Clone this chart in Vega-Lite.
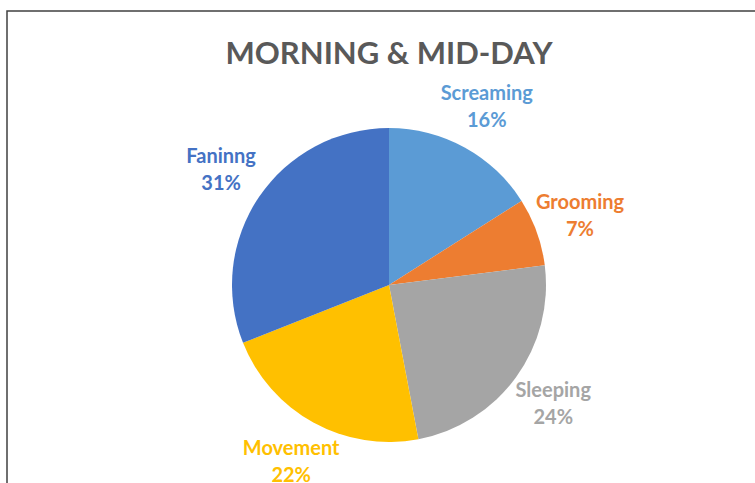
{
  "$schema": "https://vega.github.io/schema/vega-lite/v6.json",
  "width": 764,
  "height": 548,
  "autosize": "none",
  "padding": {"left": 7, "top": 11, "right": 0, "bottom": 0},
  "background": "white",
  "config": {"view": {"stroke": null}},
  "title": {
    "text": "MORNING & MID-DAY",
    "font": "Lato",
    "fontSize": 31,
    "fontWeight": "bold",
    "color": "#595959",
    "anchor": "middle",
    "baseline": "top",
    "offset": -61
  },
  "data": {
    "values": [
      {"activity": "Screaming", "value": 16, "label": "16%", "order": 1},
      {"activity": "Grooming", "value": 7, "label": "7%", "order": 2},
      {"activity": "Sleeping", "value": 24, "label": "24%", "order": 3},
      {"activity": "Movement", "value": 22, "label": "22%", "order": 4},
      {"activity": "Faninng", "value": 31, "label": "31%", "order": 5}
    ]
  },
  "layer": [
    {
      "data": {"values": [{"frame": "border"}]},
      "mark": {"type": "rect", "fill": null, "stroke": "#404040", "strokeWidth": 1.5},
      "encoding": {}
    },
    {
      "encoding": {
        "theta": {"field": "value", "type": "quantitative", "stack": true},
        "order": {"field": "order", "type": "quantitative"},
        "color": {
          "field": "activity",
          "type": "nominal",
          "scale": {
            "domain": ["Screaming", "Grooming", "Sleeping", "Movement", "Faninng"],
            "range": ["#5B9BD5", "#ED7D31", "#A5A5A5", "#FFC000", "#4472C4"]
          },
          "legend": null
        }
      },
      "layer": [
        {"mark": {"type": "arc", "outerRadius": 157}},
        {
          "mark": {"type": "text", "radius": 203, "font": "Lato", "fontSize": 20, "fontWeight": "bold", "dy": -13.5},
          "encoding": {"text": {"field": "activity"}}
        },
        {
          "mark": {"type": "text", "radius": 203, "font": "Lato", "fontSize": 20, "fontWeight": "bold", "dy": 13.5},
          "encoding": {"text": {"field": "label"}}
        }
      ]
    }
  ]
}
